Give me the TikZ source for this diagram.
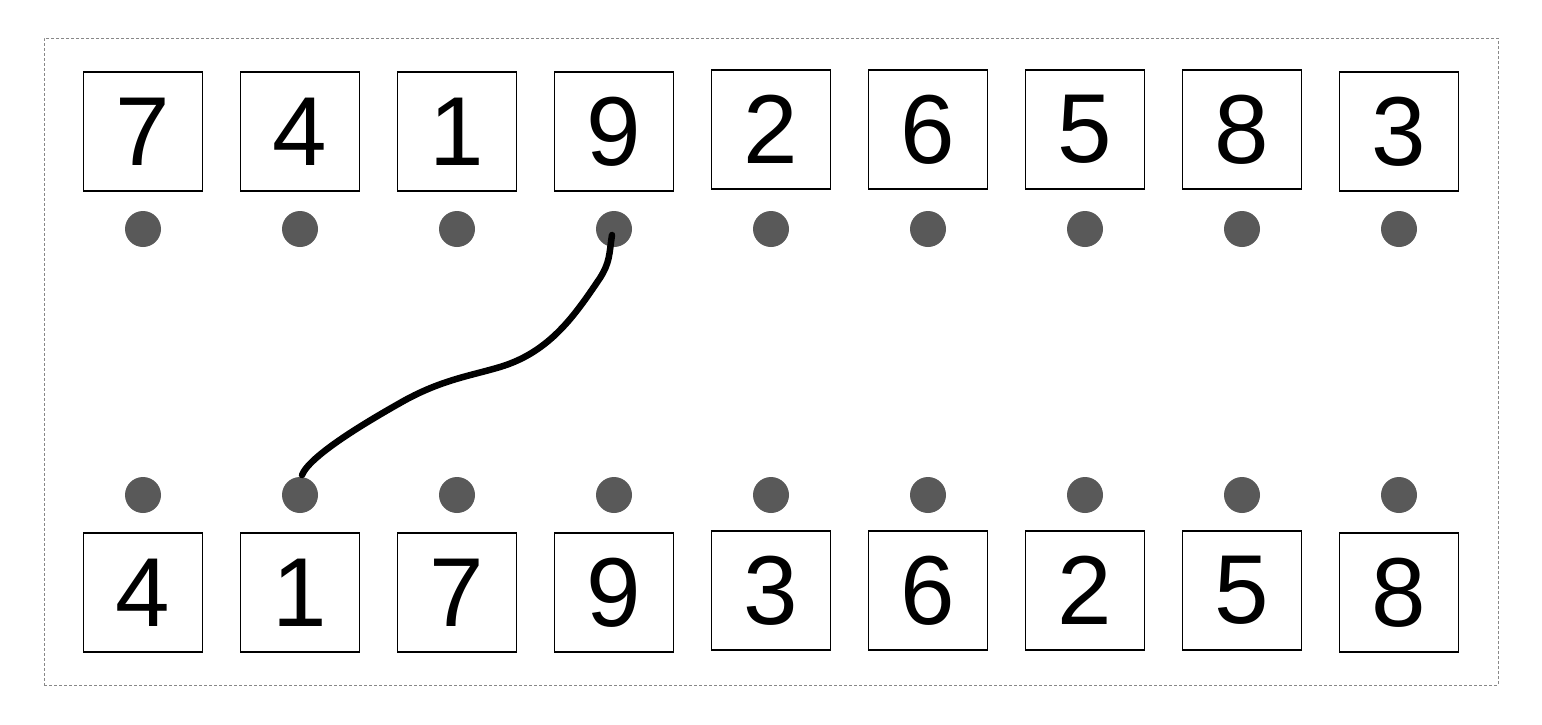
\documentclass[tikz,border=0pt]{standalone}
\usepackage{fontspec}
\setmainfont{Liberation Sans}
\usetikzlibrary{calc}
\definecolor{dotgray}{HTML}{595959}
\definecolor{framegray}{HTML}{888888}
\tikzset{
  numbox/.style={draw=black, fill=white, line width=1.6pt, minimum width=119pt, minimum height=119pt, inner sep=0pt, font=\fontsize{98}{100}\selectfont},
  dotnode/.style={circle, fill=dotgray, minimum size=36pt, inner sep=0pt},
  wire/.style={line width=6.5pt, line cap=round, line join=round}
}
\begin{document}
\begin{tikzpicture}[x=1pt,y=-1pt]
\useasboundingbox (0,0) rectangle (1542,724);
\node[draw=framegray, dashed, dash pattern=on 3pt off 2pt, line width=0.9pt, minimum width=1454pt, minimum height=647pt, inner sep=0pt] (frame) at (771,361.5) {};
% top row
\foreach \i/\v/\y in {1/7/131.5,2/4/131.5,3/1/131.5,4/9/131.5,5/2/129.5,6/6/129.5,7/5/129.5,8/8/129.5,9/3/131.5}{
  \node[numbox] (tb\i) at ({143+157*(\i-1)},\y) {\v};
  \node[dotnode] (td\i) at ({143+157*(\i-1)},229) {};
}
% bottom row
\foreach \i/\v/\y in {1/4/592.5,2/1/592.5,3/7/592.5,4/9/592.5,5/3/590.5,6/6/590.5,7/2/590.5,8/5/590.5,9/8/592.5}{
  \node[numbox] (bb\i) at ({143+157*(\i-1)},\y) {\v};
  \node[dotnode] (bd\i) at ({143+157*(\i-1)},495) {};
}
\coordinate (cs) at ($(td4)+(-2,6)$);
\coordinate (ce) at ($(bd2)+(2,-20)$);
\draw[wire] (cs) .. controls (609,255) and (610,262) .. (600,278)
  .. controls (575,315) and (550,352) .. (500,367)
  .. controls (470,376) and (440,380) .. (400,403)
  .. controls (370,420) and (310,455) .. (ce);
\end{tikzpicture}
\end{document}
